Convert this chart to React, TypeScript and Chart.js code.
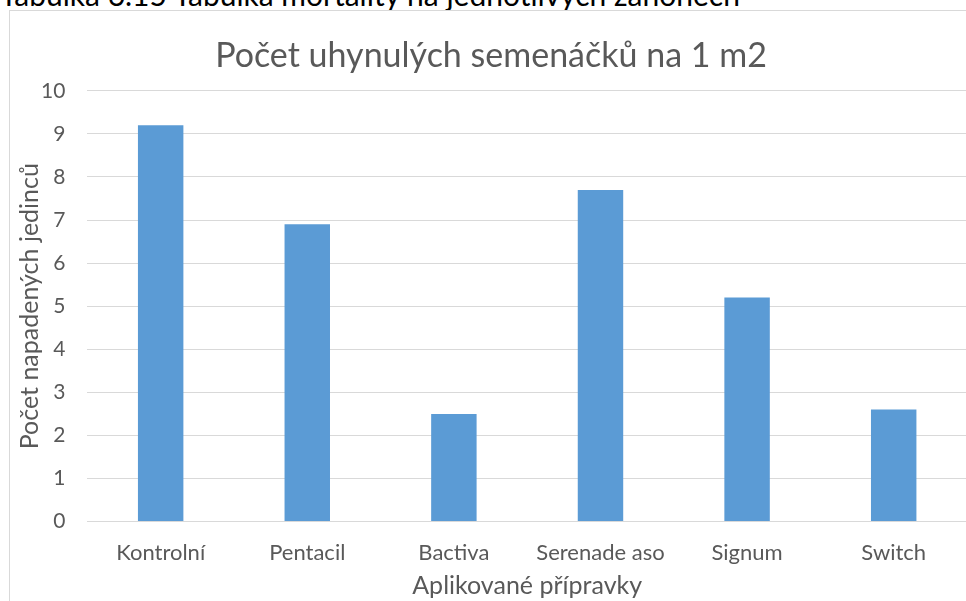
import React, { useEffect, useRef } from "react";
import { Chart, registerables } from "chart.js";

Chart.register(...registerables);

const categories = ["Kontrolní", "Pentacil", "Bactiva", "Serenade aso", "Signum", "Switch"];
const values = [9.2, 6.9, 2.5, 7.7, 5.2, 2.6];
const chartTitle = "Počet uhynulých semenáčků na 1 m2";
const xTitle = "Aplikované přípravky";
const yTitle = "Počet napadených jedinců";
const caption = "Tabulka 6.15 Tabulka mortality na jednotlivých záhonech";

const FONT = "Lato, 'Open Sans', sans-serif";
const GRAY = "#595959";

export default function App() {
  const ref = useRef<HTMLCanvasElement | null>(null);

  useEffect(() => {
    if (!ref.current) return;
    const chart = new Chart(ref.current, {
      type: "bar",
      data: {
        labels: categories,
        datasets: [
          {
            data: values,
            backgroundColor: "#5b9bd5",
            borderWidth: 0,
            barPercentage: 0.31,
            categoryPercentage: 1,
          },
        ],
      },
      options: {
        animation: false,
        responsive: false,
        maintainAspectRatio: false,
        layout: { padding: { top: 25, left: 5, right: 0, bottom: 0 } },
        plugins: {
          legend: { display: false },
          tooltip: { enabled: false },
          title: {
            display: true,
            text: chartTitle,
            color: GRAY,
            font: { family: FONT, size: 34, weight: "normal" },
            padding: { top: 0, bottom: 14 },
          },
        },
        scales: {
          x: {
            grid: { display: false, drawTicks: false },
            border: { color: "#d9d9d9", width: 1 },
            ticks: {
              color: GRAY,
              font: { family: FONT, size: 22 },
              padding: 18,
              maxRotation: 0,
            },
            title: {
              display: true,
              text: xTitle,
              color: GRAY,
              font: { family: FONT, size: 25 },
              padding: { top: -13, bottom: 0 },
            },
          },
          y: {
            min: 0,
            max: 10,
            ticks: {
              stepSize: 1,
              color: GRAY,
              font: { family: FONT, size: 21 },
              padding: 22,
            },
            grid: { color: "#d9d9d9", lineWidth: 1, drawTicks: false },
            border: { display: false },
            title: {
              display: true,
              text: yTitle,
              color: GRAY,
              font: { family: FONT, size: 25 },
              padding: { top: 0, bottom: -26 },
            },
          },
        },
      },
    });
    return () => chart.destroy();
  }, []);

  return (
    <div
      style={{
        position: "fixed",
        left: 0,
        top: 0,
        width: 966,
        height: 601,
        overflow: "hidden",
        background: "#ffffff",
      }}
    >
      <div
        style={{
          position: "absolute",
          left: 0,
          top: -21,
          fontFamily: FONT,
          fontSize: 30,
          lineHeight: "30px",
          color: "#000",
          whiteSpace: "nowrap",
        }}
      >
        {caption}
      </div>
      <div
        style={{
          position: "absolute",
          left: 9,
          top: 10,
          width: 1000,
          height: 700,
          border: "1px solid #d9d9d9",
          boxSizing: "border-box",
          background: "#fff",
        }}
      />
      <canvas
        ref={ref}
        width={957}
        height={590}
        style={{ position: "absolute", left: 10, top: 11, width: 957, height: 590 }}
      />
    </div>
  );
}
